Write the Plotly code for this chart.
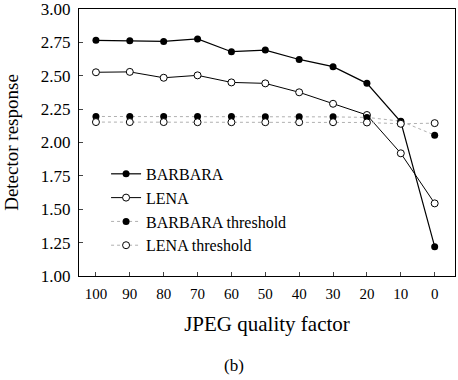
import plotly.graph_objects as go

quality = [100, 90, 80, 70, 60, 50, 40, 30, 20, 10, 0]
barbara = [2.765, 2.762, 2.757, 2.776, 2.68, 2.692, 2.622, 2.568, 2.443, 2.155, 1.22]
lena = [2.526, 2.529, 2.485, 2.503, 2.45, 2.443, 2.376, 2.29, 2.206, 1.919, 1.544]
barbara_thr = [2.195, 2.195, 2.195, 2.195, 2.195, 2.193, 2.192, 2.192, 2.188, 2.16, 2.055]
lena_thr = [2.153, 2.153, 2.153, 2.152, 2.152, 2.152, 2.152, 2.152, 2.15, 2.14, 2.145]

FONT = "Liberation Serif"
MS = 7
W, H = 458, 380
L, R, T, B = 79, 3, 9, 104

fig = go.Figure()
fig.add_trace(go.Scatter(x=quality, y=barbara, name="BARBARA", mode="lines+markers",
                         line=dict(color="black", width=1.2),
                         marker=dict(symbol="circle", size=MS, color="black")))
fig.add_trace(go.Scatter(x=quality, y=lena, name="LENA", mode="lines+markers",
                         line=dict(color="black", width=1),
                         marker=dict(symbol="circle", size=MS, color="white",
                                     line=dict(color="black", width=1))))
fig.add_trace(go.Scatter(x=quality, y=barbara_thr, name="BARBARA threshold", mode="lines+markers",
                         line=dict(color="#b0b0b0", width=1, dash="dot"),
                         marker=dict(symbol="circle", size=MS, color="black")))
fig.add_trace(go.Scatter(x=quality, y=lena_thr, name="LENA threshold", mode="lines+markers",
                         line=dict(color="#b0b0b0", width=1, dash="dot"),
                         marker=dict(symbol="circle", size=MS, color="white",
                                     line=dict(color="black", width=1))))

pw = W - L - R
ph = H - T - B

fig.update_layout(
    width=W, height=H,
    margin=dict(l=L, r=R, t=T, b=B, autoexpand=False),
    paper_bgcolor="white", plot_bgcolor="white",
    font=dict(family=FONT, color="black", size=14),
    showlegend=True,
    legend=dict(x=0.072, y=0.446, xanchor="left", yanchor="top",
                bgcolor="rgba(0,0,0,0)", font=dict(family=FONT, size=16),
                tracegroupgap=0),
    xaxis=dict(range=[105, -6], tickvals=quality, ticks="inside", ticklen=4,
               showline=True, linecolor="black", linewidth=1, mirror=True,
               showgrid=False, zeroline=False, automargin=False,
               ticklabelstandoff=4,
               tickfont=dict(family=FONT, size=15),
               title=dict(text="JPEG quality factor", font=dict(family=FONT, size=21), standoff=15)),
    yaxis=dict(range=[1.0, 3.0], tickvals=[1.0, 1.25, 1.5, 1.75, 2.0, 2.25, 2.5, 2.75, 3.0],
               tickformat=".2f", ticks="inside", ticklen=4, showline=True, linecolor="black",
               linewidth=1, mirror=True, showgrid=False, zeroline=False, automargin=False,
               ticklabelstandoff=4, ticklabeloverflow="allow",
               tickfont=dict(family=FONT, size=17),
               title=dict(text="Detector response", font=dict(family=FONT, size=19), standoff=17)),
    annotations=[dict(text="(b)", x=(234 - L) / pw, y=-(365 - (H - B)) / ph,
                      xref="paper", yref="paper",
                      showarrow=False, font=dict(family=FONT, size=17),
                      xanchor="center", yanchor="middle")],
)

fig.write_html("out.html", config={"displayModeBar": False},
               post_script="document.body.style.margin='0px';")
